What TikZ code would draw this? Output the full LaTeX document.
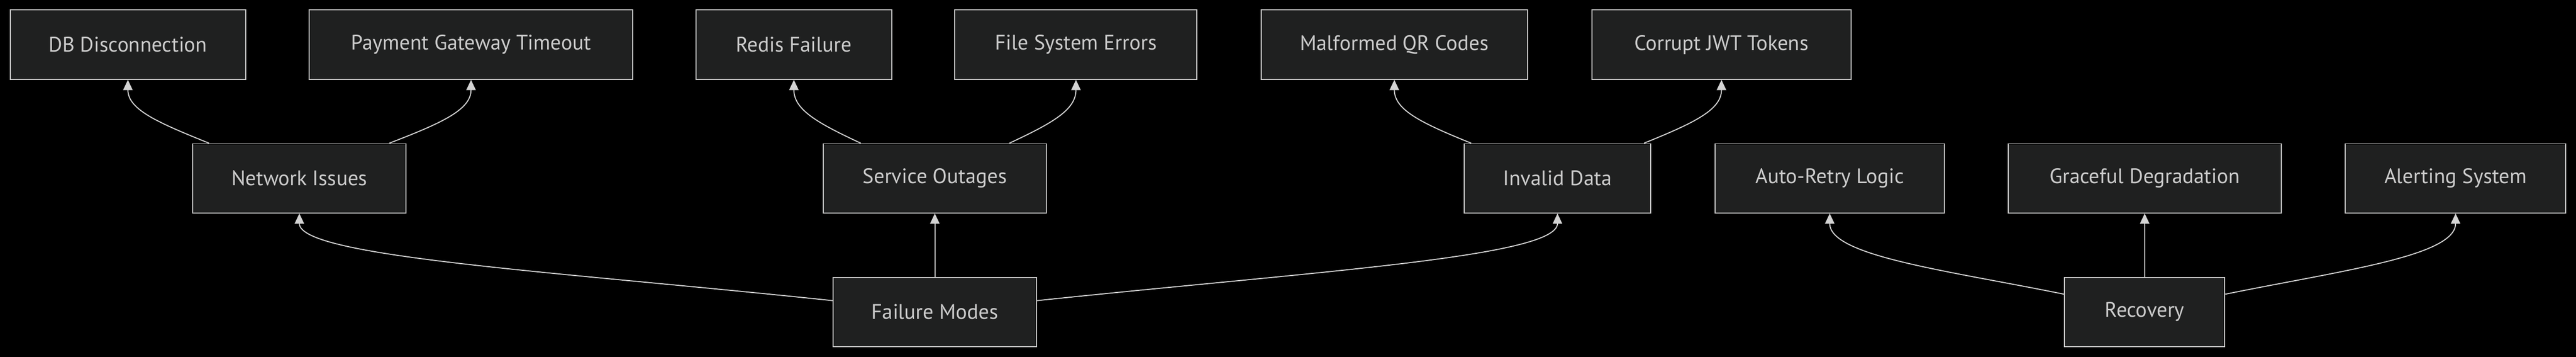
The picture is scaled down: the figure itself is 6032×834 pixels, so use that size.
\documentclass[tikz,border=0pt]{standalone}
\usepackage{fontspec}
\setmainfont{PT Sans}
\usepackage{tikz}
\usetikzlibrary{shapes,arrows.meta,positioning,calc}
\definecolor{nodefill}{HTML}{1F2020}
\definecolor{nodeline}{HTML}{CCCCCC}
\definecolor{linkline}{HTML}{D3D3D3}

\begin{document}
\begin{tikzpicture}[x=0.25pt, y=0.25pt,
                   box/.style={draw=nodeline, fill=nodefill, line width=0.6pt, text=nodeline,
                               minimum height=40.5pt, inner sep=0pt, font=\fontsize{12.3}{14}\selectfont},
                   link/.style={draw=linkline, line width=0.6pt, -{Triangle[length=6pt,width=5.5pt]}}]
\useasboundingbox (0,0) rectangle (6032,834);
\fill[black] (-20,-20) rectangle (6052,854);
\node[box, minimum width=137.75pt] (db)  at (299.5,729.5)  {DB Disconnection};
\node[box, minimum width=189.5pt]  (pgt) at (1103,729.5)   {Payment Gateway Timeout};
\node[box, minimum width=114.5pt]  (rf)  at (1859,729.5)   {Redis Failure};
\node[box, minimum width=141.75pt] (fse) at (2519.5,729.5) {File System Errors};
\node[box, minimum width=156pt]    (mqr) at (3265,729.5)   {Malformed QR Codes};
\node[box, minimum width=151.5pt]  (jwt) at (4031,729.5)   {Corrupt JWT Tokens};
\node[box, minimum width=124.75pt] (ni)  at (701,417)      {Network Issues};
\node[box, minimum width=130.5pt]  (so)  at (2189,417)     {Service Outages};
\node[box, minimum width=109pt]    (id)  at (3647,417)     {Invalid Data};
\node[box, minimum width=134.25pt] (arl) at (4284.5,417)   {Auto-Retry Logic};
\node[box, minimum width=160pt]    (gd)  at (5022,417)     {Graceful Degradation};
\node[box, minimum width=129pt]    (as)  at (5750,417)     {Alerting System};
\node[box, minimum width=119.1pt]  (fm)  at (2189,104.5)   {Failure Modes};
\node[box, minimum width=93.75pt]  (rec) at (5022,104.5)   {Recovery};
\draw[link] ($(ni.north west)+(39,0)$)  to[out=158,in=-90,out distance=32pt,in distance=17.5pt] (db.south);
\draw[link] ($(ni.north east)+(-40,0)$) to[out=21,in=-90,out distance=33pt,in distance=17.5pt] (pgt.south);
\draw[link] ($(so.north west)+(88.6,0)$) to[out=155,in=-90,out distance=28pt,in distance=17.5pt] (rf.south);
\draw[link] ($(so.north east)+(-87.5,0)$) to[out=25,in=-90,out distance=28pt,in distance=17.5pt] (fse.south);
\draw[link] ($(id.north west)+(17,0)$)  to[out=158,in=-90,out distance=32pt,in distance=17.5pt] (mqr.south);
\draw[link] ($(id.north east)+(-16.5,0)$) to[out=22,in=-90,out distance=32pt,in distance=17.5pt] (jwt.south);
\draw[link] ($(fm.west)+(0,26.5)$) to[out=174,in=-90,out distance=163pt,in distance=25.5pt] (ni.south);
\draw[link] (fm.north) -- (so.south);
\draw[link] ($(fm.east)+(0,26.5)$) to[out=6,in=-90,out distance=163pt,in distance=25.5pt] (id.south);
\draw[link] ($(rec.west)+(0,41.5)$) to[out=168.5,in=-90,out distance=69pt,in distance=25pt] (arl.south);
\draw[link] (rec.north) -- (gd.south);
\draw[link] ($(rec.east)+(0,41.5)$) to[out=11.5,in=-90,out distance=69pt,in distance=25pt] (as.south);
\end{tikzpicture}
\end{document}
